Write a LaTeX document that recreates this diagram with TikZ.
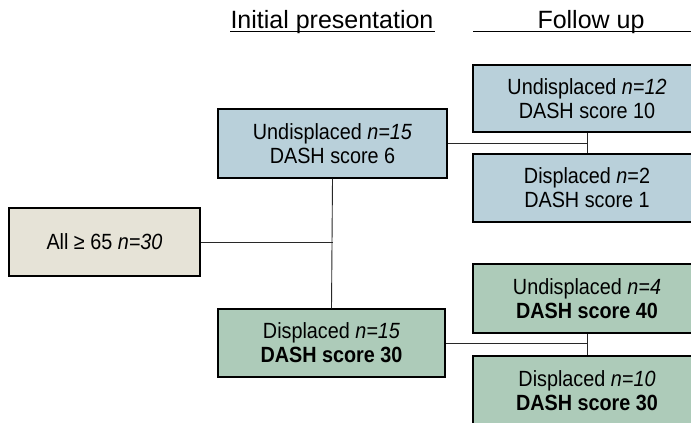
\documentclass[tikz,border=0pt]{standalone}
\usepackage{fontspec}
\setmainfont{Liberation Sans}
\newfontfamily\boxfont[FakeStretch=0.9]{Liberation Sans}
\definecolor{boxblue}{RGB}{185,208,218}
\definecolor{boxgreen}{RGB}{173,203,185}
\definecolor{boxbeige}{RGB}{230,227,215}
\definecolor{edgegrey}{RGB}{40,40,40}
\tikzset{
  box/.style={draw=black, line width=1.5pt, rectangle, align=center, inner sep=0pt,
    font=\boxfont\fontsize{22}{24}\selectfont},
  bluebox/.style={box, fill=boxblue},
  greenbox/.style={box, fill=boxgreen},
  beigebox/.style={box, fill=boxbeige},
  link/.style={draw=edgegrey, line width=0.9pt},
  heading/.style={font=\fontsize{25}{28}\selectfont, inner sep=0pt, anchor=base},
}
\begin{document}
\begin{tikzpicture}[x=1pt, y=-1pt]
\useasboundingbox (0,0) rectangle (691,423);
\clip (0,0) rectangle (691,423);
\fill[white] (0,0) rectangle (691,423);

% headings
\node[heading] (h1) at (332,28) {Initial presentation};
\coordinate (u1a) at (230,31.5);
\coordinate (u1b) at (435,31.5);
\draw[line width=1.1pt] (u1a) -- (u1b);
\node[heading] (h2) at (591,28) {Follow up};
\coordinate (u2a) at (473,31.5);
\coordinate (u2b) at (700,31.5);
\draw[line width=1.1pt] (u2a) -- (u2b);

% boxes
\node[beigebox, minimum width=191pt, minimum height=68pt] (all) at (104.5,242) {All ≥ 65 \textit{n=30}};
\node[bluebox, minimum width=229pt, minimum height=69pt] (a) at (332.5,143.5) {Undisplaced \textit{n=15}\\DASH score 6};
\node[greenbox, minimum width=227pt, minimum height=68pt] (b) at (331.5,343) {Displaced \textit{n=15}\\\textbf{DASH score 30}};
\node[bluebox, minimum width=228pt, minimum height=67pt] (c) at (587,98.5) {Undisplaced \textit{n=12}\\DASH score 10};
\node[bluebox, minimum width=228pt, minimum height=68pt] (d) at (587,188) {Displaced \textit{n}=2\\DASH score 1};
\node[greenbox, minimum width=228pt, minimum height=69pt] (e) at (587,298.5) {Undisplaced \textit{n=4}\\\textbf{DASH score 40}};
\node[greenbox, minimum width=228pt, minimum height=69pt] (f) at (587,390.5) {Displaced \textit{n=10}\\\textbf{DASH score 30}};

% connectors
\draw[link] (a.south) -- (b.north);
\draw[link] (all.east) -- (all.east -| a.south);
\draw[link] (c.south) -- (d.north);
\draw[link] (a.east) -- (a.east -| c.south);
\draw[link] (e.south) -- (f.north);
\draw[link] (b.east) -- (b.east -| e.south);
\end{tikzpicture}
\end{document}
